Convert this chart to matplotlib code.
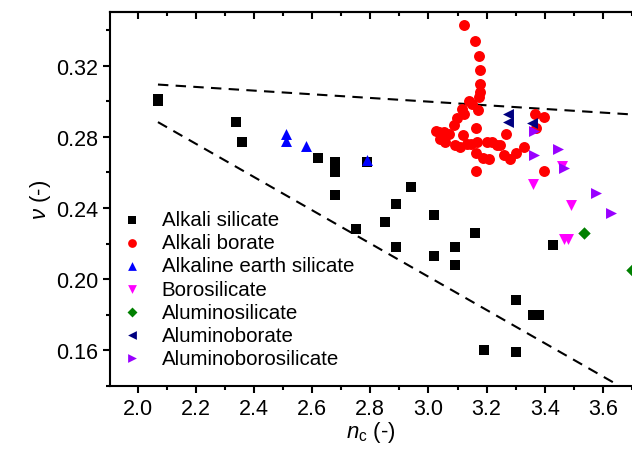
import numpy as np
import matplotlib
matplotlib.use("Agg")
import matplotlib.pyplot as plt
from matplotlib.ticker import MultipleLocator

plt.rcParams["font.family"] = "Liberation Sans"
plt.rcParams["mathtext.fontset"] = "custom"
plt.rcParams["mathtext.rm"] = "Liberation Sans"
plt.rcParams["mathtext.it"] = "Liberation Sans:italic"

# data
alk_sil_x = [2.07, 2.07, 2.34, 2.36, 2.62, 2.68, 2.68, 2.68, 2.79, 2.94, 2.89, 2.85,
             2.75, 2.89, 3.02, 3.16, 3.02, 3.09, 3.09, 3.43, 3.30, 3.36, 3.38, 3.19, 3.30]
alk_sil_y = [0.301, 0.300, 0.288, 0.277, 0.268, 0.266, 0.260, 0.247, 0.266, 0.252, 0.242, 0.232,
             0.228, 0.218, 0.236, 0.226, 0.213, 0.218, 0.208, 0.219, 0.188, 0.180, 0.180, 0.160, 0.159]

alk_bor_x = [3.121, 3.159, 3.175, 3.179, 3.179, 3.179, 3.173, 3.138, 3.116, 3.121, 3.171,
             3.099, 3.087, 3.164, 3.035, 3.070, 3.118, 3.041, 3.058, 3.093, 3.133, 3.167,
             3.202, 3.236, 3.268, 3.165, 3.188, 3.207, 3.259, 3.282, 3.302, 3.328, 3.162,
             3.368, 3.396, 3.371, 3.399, 3.027, 3.052, 3.247, 3.220, 3.148, 3.110, 3.150]
alk_bor_y = [0.3430, 0.3335, 0.3253, 0.3172, 0.3097, 0.3051, 0.3023, 0.3003, 0.2957, 0.2929, 0.2951,
             0.2905, 0.2863, 0.2849, 0.2829, 0.2817, 0.2811, 0.2788, 0.2772, 0.2751, 0.2760, 0.2770,
             0.2770, 0.2751, 0.2817, 0.2710, 0.2680, 0.2672, 0.2695, 0.2672, 0.2710, 0.2742, 0.2610,
             0.2929, 0.2910, 0.2850, 0.2607, 0.2833, 0.2828, 0.2751, 0.2772, 0.2760, 0.2743, 0.2985]

alk_earth_x = [2.51, 2.51, 2.58, 2.79]
alk_earth_y = [0.2817, 0.2776, 0.2747, 0.2667]

borosil_x = [3.461, 3.358, 3.491, 3.465, 3.48]
borosil_y = [0.2633, 0.2536, 0.2418, 0.2227, 0.2227]

alumsil_x = [3.534, 3.70]
alumsil_y = [0.2261, 0.205]

alumbor_x = [3.273, 3.273, 3.356]
alumbor_y = [0.2925, 0.2882, 0.2878]

alumborsil_x = [3.362, 3.362, 3.444, 3.465, 3.577, 3.629]
alumborsil_y = [0.2832, 0.2700, 0.2732, 0.2626, 0.2484, 0.2371]

upper_line_x = [2.07, 3.70]
upper_line_y = [0.3093, 0.2925]
lower_line_x = [2.07, 3.66]
lower_line_y = [0.2882, 0.1397]

series = [
    (alk_sil_x, alk_sil_y, "Alkali silicate", "s", "#000000", 50),
    (alk_bor_x, alk_bor_y, "Alkali borate", "o", "#FF0000", 62),
    (alk_earth_x, alk_earth_y, "Alkaline earth silicate", "^", "#0000FF", 62),
    (borosil_x, borosil_y, "Borosilicate", "v", "#FF00FF", 62),
    (alumsil_x, alumsil_y, "Aluminosilicate", "D", "#008000", 40),
    (alumbor_x, alumbor_y, "Aluminoborate", "<", "#000080", 62),
    (alumborsil_x, alumborsil_y, "Aluminoborosilicate", ">", "#9900FF", 62),
]

fig = plt.figure(figsize=(6.32, 4.52), dpi=100)
ax = fig.add_axes([0.174, 0.144, 0.826, 0.827])

ax.plot(upper_line_x, upper_line_y, color="black", lw=1.5, dashes=[5, 3.5], zorder=1)
ax.plot(lower_line_x, lower_line_y, color="black", lw=1.5, dashes=[5, 3.5], zorder=1)

for x, y, label, m, c, s in series:
    ax.scatter(x, y, marker=m, s=s, color=c, label=label, linewidths=0, zorder=3)

ax.set_xlim(1.905, 3.70)
ax.set_ylim(0.14, 0.350)
ax.xaxis.set_major_locator(MultipleLocator(0.2))
ax.xaxis.set_minor_locator(MultipleLocator(0.1))
ax.yaxis.set_major_locator(MultipleLocator(0.04))
ax.yaxis.set_minor_locator(MultipleLocator(0.02))
ax.xaxis.set_major_formatter(matplotlib.ticker.FormatStrFormatter("%.1f"))
ax.yaxis.set_major_formatter(matplotlib.ticker.FormatStrFormatter("%.2f"))

for sp in ax.spines.values():
    sp.set_linewidth(1.5)
ax.spines["right"].set_visible(False)

ax.tick_params(which="major", direction="out", length=5, width=1.5, labelsize=15.5)
ax.tick_params(which="minor", direction="out", length=3, width=1.5)

top = ax.secondary_xaxis("top")
top.xaxis.set_major_locator(MultipleLocator(0.2))
top.xaxis.set_minor_locator(MultipleLocator(0.1))
top.tick_params(which="major", direction="in", length=5, width=1.5, labeltop=False)
top.tick_params(which="minor", direction="in", length=3, width=1.5)
top.spines["top"].set_linewidth(1.5)

ax.set_xlabel(r"$\mathit{n}_{\mathrm{c}}$ (-)", fontsize=16, labelpad=0)
ax.set_ylabel(r"$\mathit{\nu}$ (-)", fontsize=16, labelpad=2)

ax.legend(loc="upper left", bbox_to_anchor=(0.022, 0.47), frameon=False,
          fontsize=14.8, borderpad=0, borderaxespad=0, handlelength=1.0,
          handletextpad=0.95, labelspacing=0.2, markerscale=0.8)

fig.savefig("out.png", dpi=100)
